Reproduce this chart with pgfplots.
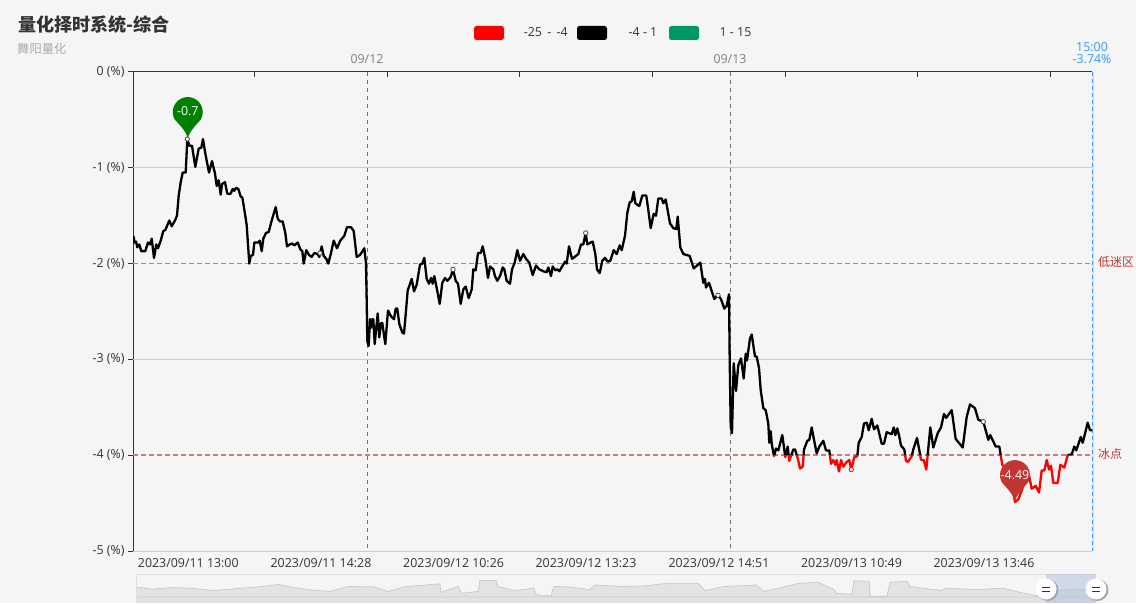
\documentclass[border=0pt]{standalone}
\usepackage{pgfplots}
\usepackage{pgfplotstable}
\usepackage{fontspec}
\pgfplotsset{compat=1.18}
\setmainfont{Open Sans}
\newfontfamily\cjk{Noto Sans CJK SC}
\definecolor{bgc}{HTML}{F5F5F5}
\definecolor{txt}{HTML}{333333}
\definecolor{mk}{HTML}{C23531}
\definecolor{mkl}{HTML}{D97874}
\definecolor{gridc}{HTML}{CCCCCC}
\definecolor{blu}{HTML}{3399FF}
\definecolor{gn}{HTML}{009966}
\newcommand{\fs}{\fontsize{12.4}{14}\selectfont}
\pgfdeclareplotmark{pinmark}{%
  \pgfpathmoveto{\pgfpoint{0pt}{1pt}}%
  \pgfpathcurveto{\pgfpoint{-1.5pt}{7pt}}{\pgfpoint{-7pt}{13pt}}{\pgfpoint{-13pt}{19.5pt}}%
  \pgfpatharc{210}{-30}{15pt}%
  \pgfpathcurveto{\pgfpoint{7pt}{13pt}}{\pgfpoint{1.5pt}{7pt}}{\pgfpoint{0pt}{1pt}}%
  \pgfusepathqfill}
\pgfplotstableread{
x y
133.3 -1.71
134.7 -1.78
136 -1.77
137.3 -1.83
139.3 -1.80
141.3 -1.87
145.3 -1.87
148 -1.78
150 -1.80
151.7 -1.74
154 -1.94
156.3 -1.80
158 -1.84
160.7 -1.76
163.3 -1.66
165.3 -1.65
169.3 -1.55
171.7 -1.61
175 -1.55
177 -1.50
178.7 -1.29
180.7 -1.15
182.7 -1.05
185.7 -1.05
187.3 -0.70
189.3 -0.77
192 -0.77
195.3 -0.99
198.7 -0.80
201.3 -0.79
203 -0.70
205.3 -0.85
209 -1.05
212 -0.93
215 -1.06
216.7 -1.19
218.7 -1.13
220.7 -1.28
222 -1.17
225 -1.15
227.3 -1.27
230.7 -1.27
232.7 -1.22
234.3 -1.24
236 -1.21
238.3 -1.22
240.7 -1.30
242.3 -1.31
245 -1.48
246.7 -1.60
249.3 -2.00
250.7 -1.92
253 -1.91
254.3 -1.78
258.3 -1.78
259.7 -1.76
261.7 -1.87
263.3 -1.74
266 -1.68
268.7 -1.67
271.7 -1.55
275.7 -1.41
277.7 -1.53
280 -1.56
282.7 -1.56
285.3 -1.68
287 -1.82
289.7 -1.80
292.3 -1.79
294.3 -1.81
297.7 -1.78
300.3 -1.85
302.3 -1.87
303.7 -2.00
306.3 -1.86
309 -1.91
311.7 -1.93
314.3 -1.89
317.7 -1.90
319.3 -1.93
321.7 -1.82
323.7 -1.92
326.3 -1.95
328.3 -2.00
331 -1.89
333.7 -1.76
337 -1.84
340.3 -1.76
344.3 -1.71
347 -1.62
351 -1.62
353.7 -1.66
356.7 -1.93
360 -1.91
364.3 -1.84
366 -2.00
366.7 -2.39
367.3 -2.81
368.7 -2.86
370 -2.58
371 -2.67
372.3 -2.58
373.3 -2.58
374.7 -2.84
377.7 -2.52
379.3 -2.77
381 -2.62
382.3 -2.62
385.3 -2.84
388 -2.49
391 -2.55
394 -2.58
395.7 -2.47
397.3 -2.47
399.3 -2.63
402.3 -2.72
404 -2.73
405.7 -2.53
407.7 -2.28
411.7 -2.16
414 -2.29
416.7 -2.22
420 -2.01
422.3 -2.00
424.3 -1.94
426.7 -2.16
429 -2.21
431 -2.15
432.7 -2.21
434.3 -2.13
437 -2.27
439.7 -2.42
442.3 -2.20
445 -2.15
447.3 -2.18
450.7 -2.14
453 -2.06
455.7 -2.18
458 -2.21
460.7 -2.42
463.3 -2.27
465.7 -2.24
468.7 -2.36
471.7 -2.27
473.3 -2.06
475.7 -2.07
478 -1.89
480.7 -1.89
482.7 -1.82
485.3 -1.95
488 -2.15
490 -2.03
493.3 -2.06
495 -2.13
497.3 -2.18
500 -2.13
502.7 -2.04
504.3 -2.06
506.7 -2.18
510 -2.21
512 -2.06
514.7 -1.99
517.3 -1.86
520 -1.97
523.3 -1.90
526 -1.95
529.3 -1.99
532.7 -2.12
536 -2.02
539.3 -2.06
543.3 -2.08
546.7 -2.09
548.3 -2.04
551 -2.13
552.7 -2.03
555.3 -2.07
557.3 -2.06
559.3 -2.08
562.7 -2.02
565 -1.98
566.7 -2.00
569 -1.82
572 -1.95
574.7 -1.93
578.3 -1.90
581 -1.80
583.3 -1.80
585.7 -1.68
587.3 -1.80
590.7 -1.78
592.7 -1.77
595.3 -1.90
597 -2.06
599.7 -2.10
602.3 -1.97
605 -1.94
607.7 -1.98
610.3 -1.97
613.7 -1.86
616.7 -1.90
619.7 -1.81
621.7 -1.86
625 -1.71
627.3 -1.47
629.7 -1.36
631.7 -1.35
633.7 -1.25
635.3 -1.37
639.3 -1.40
642.3 -1.29
646.3 -1.29
648.3 -1.44
650.7 -1.63
653.7 -1.48
656 -1.50
658.3 -1.32
661.7 -1.32
663.3 -1.37
665.7 -1.33
670 -1.58
673.3 -1.63
676.3 -1.64
677.7 -1.51
680.3 -1.83
683.3 -1.90
689.7 -1.92
693.7 -2.05
700.3 -1.99
703.3 -2.20
705 -2.16
706 -2.25
709 -2.20
714.3 -2.37
717.7 -2.33
721 -2.37
724.3 -2.47
726.7 -2.44
729 -2.32
729.7 -3.01
730.7 -3.70
732 -3.77
733.7 -3.04
736 -3.33
738.3 -3.06
741 -2.99
743.7 -3.20
745.7 -2.94
747 -3.01
750 -2.78
751.7 -2.74
755 -2.97
756.7 -2.97
759 -3.09
760.7 -3.32
763.3 -3.51
765.7 -3.53
768.3 -3.67
769.3 -3.87
770.7 -3.75
771.7 -3.88
774 -4.01
776 -3.93
778.3 -3.95
782.3 -3.79
785.3 -4.02
787.7 -3.91
789.3 -4.06
793.3 -3.94
795 -3.94
797.7 -4.03
800 -4.14
802.7 -4.12
804 -3.94
807.3 -3.85
809.3 -3.84
811.7 -3.71
814 -3.84
816.7 -3.98
819.3 -3.91
823.3 -3.85
826 -3.95
829.3 -3.95
831 -4.09
833.3 -4.05
835.3 -4.10
836.7 -4.05
839 -4.17
841 -4.05
843.3 -4.12
846.7 -4.07
849.3 -4.05
851.3 -4.15
854.3 -4.02
857.3 -4.01
858.7 -3.87
861.7 -3.81
864 -3.67
866.7 -3.66
868.7 -3.74
871.7 -3.62
874 -3.73
877.3 -3.69
881.7 -3.88
884 -3.88
886.7 -3.76
891.7 -3.78
893.7 -3.71
895.3 -3.79
897.3 -3.72
899 -3.79
901 -3.90
904.3 -3.94
906 -4.06
908 -4.07
911.7 -4.01
913.3 -3.94
917 -3.82
919.7 -3.97
921 -4.05
923.7 -4.05
926.3 -4.15
930.3 -3.71
933.3 -3.92
937.7 -3.77
941 -3.71
944 -3.57
946.3 -3.61
951.7 -3.53
955.7 -3.83
962.7 -3.92
966.7 -3.60
970 -3.47
975 -3.51
978.3 -3.63
983.3 -3.65
988.3 -3.84
990.3 -3.79
995.7 -3.91
999.3 -3.91
1001 -4.02
1002.3 -4.10
1006.7 -4.15
1011.7 -4.30
1015 -4.49
1018.3 -4.46
1021.7 -4.37
1026.7 -4.21
1029 -4.21
1031.7 -4.35
1035.7 -4.32
1039 -4.39
1041.7 -4.16
1044.3 -4.16
1046.7 -4.05
1049 -4.15
1051 -4.11
1053.3 -4.29
1057.7 -4.29
1060.3 -4.10
1064.3 -4.13
1067.7 -4.00
1071.7 -3.99
1074.3 -3.91
1076.3 -3.95
1080.7 -3.81
1082.7 -3.87
1087.7 -3.66
1090 -3.74
1092 -3.74
}\curve
\begin{document}
\begin{tikzpicture}
\useasboundingbox (0,0) rectangle (1136pt,603pt);
\fill[bgc] (0,0) rectangle (1136pt,603pt);
% title
\node[anchor=west,inner sep=0,text=txt,font=\cjk\bfseries\fontsize{18.1}{20}\selectfont] at (18pt,578pt) {量化择时系统-综合};
\node[anchor=west,inner sep=0,text=black!33,font=\cjk\fontsize{12.3}{14}\selectfont] at (17pt,554pt) {舞阳量化};
% legend
\fill[red,rounded corners=2.5pt] (474pt,563pt) rectangle (504pt,577pt);
\fill[black,rounded corners=2.5pt] (577pt,563pt) rectangle (607pt,577pt);
\fill[gn,rounded corners=2.5pt] (669pt,563pt) rectangle (699pt,577pt);
\node[anchor=center,inner sep=0,text=txt,font=\fs] at (545.8pt,571pt) {-25 \,-\, -4};
\node[anchor=center,inner sep=0,text=txt,font=\fs] at (643pt,571pt) {-4 - 1};
\node[anchor=center,inner sep=0,text=txt,font=\fs] at (735.5pt,571pt) {1 - 15};
% main axis
\begin{axis}[name=main,scale only axis,width=959pt,height=479pt,at={(133pt,52pt)},anchor=south west,
  xmin=133,xmax=1092,ymin=-5,ymax=0,clip=false,
  axis x line*=bottom,axis y line*=left,
  axis line style={-},
  x axis line style={draw=gridc,line width=1pt},
  y axis line style={draw=txt,line width=1pt},
  xtick={188.3,321,453.6,586,719,851.5,984},
  xticklabels={2023/09/11 13:00,2023/09/11 14:28,2023/09/12 10:26,2023/09/12 13:23,2023/09/12 14:51,2023/09/13 10:49,2023/09/13 13:46},
  xtick style={draw=none},
  xticklabel style={font=\fs,text=txt,yshift=-4pt},
  ytick={-5,-4,-3,-2,-1,0},
  yticklabels={-5 (\%),-4 (\%),-3 (\%),-2 (\%),-1 (\%),0 (\%)},
  yticklabel style={font=\fs,text=txt},
  ytick align=outside,ytick pos=left,tickwidth=5pt,
  ytick style={draw=txt,line width=1pt},
]
\addplot[gridc,line width=1pt] coordinates {(133,-1)(1092,-1)};
\addplot[gridc,line width=1pt] coordinates {(133,-3)(1092,-3)};
\addplot[mkl,line width=1.7pt,dash pattern=on 5pt off 3pt] coordinates {(133,-2)(1092,-2)};
\addplot[mkl,line width=1.7pt,dash pattern=on 5pt off 3pt] coordinates {(133,-4)(1092,-4)};
\addplot[black!55,line width=1pt,dash pattern=on 4pt off 4pt] coordinates {(367,0)(367,-5)};
\addplot[black!55,line width=1pt,dash pattern=on 4pt off 4pt] coordinates {(730,0)(730,-5)};
\addplot[black!12,line width=2pt] coordinates {(1093,0)(1093,-5)};
\addplot[blu,line width=1pt,dash pattern=on 4pt off 3pt] coordinates {(1092,0)(1092,-5)};
\node[text=black!50,inner sep=0,font=\fs] at (axis cs:367,0) [yshift=12.5pt] {09/12};
\node[text=black!50,inner sep=0,font=\fs] at (axis cs:730,0) [yshift=12.5pt] {09/13};
\node[text=blu,inner sep=0,font=\fs] at (axis cs:1092,0) [yshift=24.5pt] {15:00};
\node[text=blu,inner sep=0,font=\fs] at (axis cs:1092,0) [yshift=12.5pt] {-3.74\%};
\node[anchor=west,text=mk,inner sep=0,font=\cjk\fontsize{12}{14}\selectfont] at (axis cs:1092,-2) [xshift=6pt,yshift=1.5pt] {低迷区};
\node[anchor=west,text=mk,inner sep=0,font=\cjk\fontsize{12}{14}\selectfont] at (axis cs:1092,-4) [xshift=6pt,yshift=1.5pt] {冰点};
\end{axis}
% black part of the curve: values above -4
\begin{axis}[scale only axis,width=961pt,height=383.2pt,at={(133pt,147.8pt)},anchor=south west,
  xmin=133,xmax=1094,ymin=-4,ymax=0,hide axis]
\addplot[black,line width=2.3pt,line join=round,no marks] table[x=x,y=y] {\curve};
\end{axis}
% red part of the curve: values below -4
\begin{axis}[scale only axis,width=961pt,height=95.8pt,at={(133pt,52pt)},anchor=south west,
  xmin=133,xmax=1094,ymin=-5,ymax=-4,hide axis]
\addplot[red,line width=2.3pt,line join=round,no marks] table[x=x,y=y] {\curve};
\end{axis}
% top axis with inward ticks, marks and pins
\begin{axis}[scale only axis,width=959pt,height=479pt,at={(133pt,52pt)},anchor=south west,
  xmin=133,xmax=1092,ymin=-5,ymax=0,clip=false,
  axis x line*=top,axis y line=none,axis line style={-,draw=txt,line width=1pt},
  xtick={254.6,387,519.5,652,785,917.5,1050},xticklabels={},
  xtick align=inside,tickwidth=5pt,xtick style={draw=txt,line width=1pt},
]
\addplot[only marks,mark=*,mark size=2.2pt,mark options={fill=white,draw=black!70,line width=.8pt}] coordinates {(187.3,-0.70)(320,-1.89)(453,-2.06)(585.7,-1.68)(718,-2.33)(983.3,-3.65)};
\addplot[only marks,mark=*,mark size=2.2pt,mark options={fill=white,draw=red,line width=.8pt}] coordinates {(851.3,-4.15)};
\addplot[only marks,mark=pinmark,color=green!50!black] coordinates {(187.8,-0.70)};
\addplot[only marks,mark=pinmark,color=mk] coordinates {(1015,-4.49)};
\end{axis}
\begin{axis}[scale only axis,width=959pt,height=479pt,at={(133pt,52pt)},anchor=south west,
  xmin=133,xmax=1092,ymin=-5,ymax=0,clip=false,hide axis]
\addplot[draw=none,forget plot] coordinates {(187.8,-0.70)};
\node[text=white,inner sep=0,font=\fs] at (axis cs:187.8,-0.70) [yshift=28pt] {-0.7};
\node[text=white,inner sep=0,font=\fs] at (axis cs:1015,-4.49) [yshift=27pt] {-4.49};
\end{axis}
% data-zoom slider
\fill[black!11] (136pt,0pt) rectangle (1096pt,6pt);
\begin{axis}[scale only axis,width=961pt,height=23pt,at={(136pt,6pt)},anchor=south west,
  xmin=136,xmax=1097,ymin=578,ymax=603,y dir=reverse,hide axis,clip=true]
\addplot[fill=black!11,draw=black!20,line width=.8pt] coordinates {(136,592)(152,594.5)(172,592.7)(192,593.5)(214,596)(235.5,594)(254,592.5)(279,589.4)(290,592)(308,595)(330,597)(348,591.6)(373,592)(388,597)(406,591.6)(440,588.7)(441,598)(458,591.6)(462,599)(478,597)(480,585)(496,585)(498,591.6)(514,596)(534,593.4)(536,600.6)(551,601.7)(554,591.6)(568,592)(590,595)(595,590)(622,591.6)(644,591)(668,588)(698,588)(705,596)(724,591.6)(756,590)(764,597)(800,588)(818,587)(834,595)(836,599)(852,600)(854,585.4)(869,586)(870.5,602.5)(887,602)(890,587)(907,586)(910,591.6)(941,596)(947,593.4)(976,595)(1003,593.4)(1024,599)(1039,602)(1055,596)(1075,594.5)(1096,596)(1096,603)(136,603)} -- cycle;
\end{axis}
\draw[draw=black!12,line width=1pt] (136pt,29pt) -- (1096pt,29pt);
\draw[draw=black!12,line width=.6pt] (136pt,29pt) -- (136pt,0pt);
\fill[fill={rgb,255:red,178;green,194;blue,220},opacity=.55] (1046pt,0pt) rectangle (1096pt,29pt);
\foreach \cx in {1046,1096}{
  \fill[black!35] (\cx pt+1.5pt,13pt) circle (11pt);
  \fill[white] (\cx pt,14pt) circle (10.5pt);
  \draw[txt,line width=1pt] (\cx pt-4pt,16pt) -- (\cx pt+4pt,16pt) (\cx pt-4pt,12pt) -- (\cx pt+4pt,12pt);
}
\end{tikzpicture}
\end{document}
